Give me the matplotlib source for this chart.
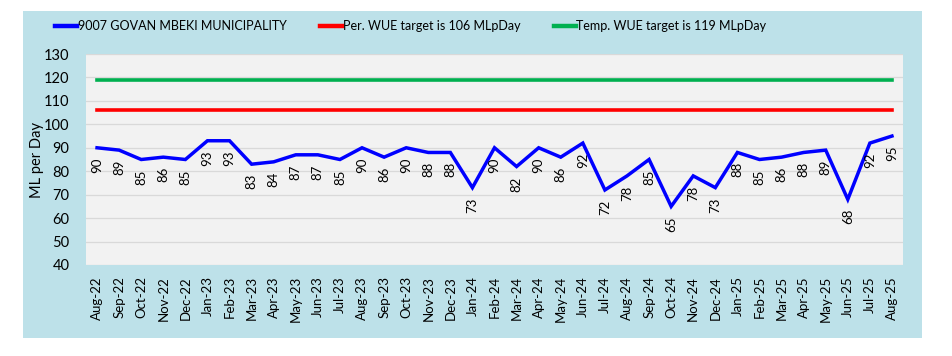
import matplotlib
matplotlib.use("Agg")
import matplotlib.pyplot as plt
from matplotlib.patches import Rectangle
from matplotlib.lines import Line2D
import numpy as np

months = ["Aug-22", "Sep-22", "Oct-22", "Nov-22", "Dec-22", "Jan-23", "Feb-23", "Mar-23",
          "Apr-23", "May-23", "Jun-23", "Jul-23", "Aug-23", "Sep-23", "Oct-23", "Nov-23",
          "Dec-23", "Jan-24", "Feb-24", "Mar-24", "Apr-24", "May-24", "Jun-24", "Jul-24",
          "Aug-24", "Sep-24", "Oct-24", "Nov-24", "Dec-24", "Jan-25", "Feb-25", "Mar-25",
          "Apr-25", "May-25", "Jun-25", "Jul-25", "Aug-25"]
usage = [90, 89, 85, 86, 85, 93, 93, 83, 84, 87, 87, 85, 90, 86, 90, 88, 88, 73, 90, 82,
         90, 86, 92, 72, 78, 85, 65, 78, 73, 88, 85, 86, 88, 89, 68, 92, 95]
per_target = 106
temp_target = 119
series_names = ["9007 GOVAN MBEKI MUNICIPALITY",
                "Per. WUE target is 106 MLpDay",
                "Temp. WUE target is 119 MLpDay"]
y_ticks = [40, 50, 60, 70, 80, 90, 100, 110, 120, 130]

plt.rcParams['font.family'] = ['Lato', 'DejaVu Sans']

fig = plt.figure(figsize=(9.52, 3.56), dpi=100)
fig.patch.set_facecolor("white")

# blue textured panel
panel = Rectangle((23 / 952, 1 - 338 / 356), (922 - 23) / 952, (338 - 11) / 356,
                  transform=fig.transFigure, facecolor="#BDE1E9", edgecolor="none", zorder=0)
fig.patches.append(panel)

ax = fig.add_axes([86 / 952, 1 - 265 / 356, (903 - 86) / 952, (265 - 54) / 356])
ax.set_facecolor("#F2F2F2")
ax.set_zorder(2)

x = np.arange(len(months))
ax.plot(x, usage, color="#0000FF", lw=2.5, solid_joinstyle="miter", zorder=4)
ax.plot(x, [per_target] * len(x), color="#FF0000", lw=2.6, zorder=3)
ax.plot(x, [temp_target] * len(x), color="#00B050", lw=2.6, zorder=3)

for xi, v in zip(x, usage):
    ax.annotate(str(v), (xi, v), xytext=(0, -7), textcoords="offset points",
                rotation=90, ha="center", va="top", fontsize=9.5, color="black", zorder=5)

ax.set_xlim(-0.5, len(months) - 0.5)
ax.set_ylim(40, 130)
ax.set_yticks(y_ticks)
ax.set_yticklabels([str(t) for t in y_ticks], fontsize=10.5)
ax.set_xticks(x)
ax.set_xticklabels(months, rotation=90, fontsize=9.5)
ax.tick_params(length=0, pad=8)
ax.tick_params(axis="y", pad=12)
ax.grid(axis="y", color="#D9D9D9", lw=0.9)
ax.set_axisbelow(True)
for s in ax.spines.values():
    s.set_visible(False)
ax.set_ylabel("ML per Day", fontsize=10.5)
ax.yaxis.set_label_coords(-0.052, 0.5)

handles = [Line2D([], [], color="#0000FF", lw=3.2),
           Line2D([], [], color="#FF0000", lw=3.2),
           Line2D([], [], color="#00B050", lw=3.2)]
leg = fig.legend(handles, series_names, loc="center left", bbox_to_anchor=(55 / 952, 1 - 26 / 356),
                 ncol=3, frameon=False, fontsize=9, handlelength=1.75, handletextpad=0.05,
                 columnspacing=2.7, borderaxespad=0, borderpad=0)

fig.savefig("out.png", dpi=100)
